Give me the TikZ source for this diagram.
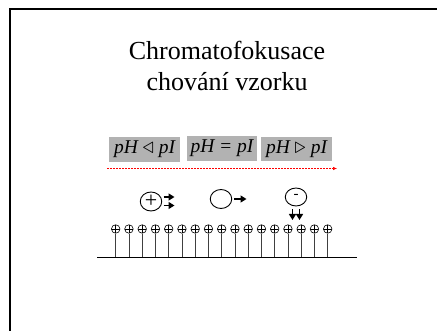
\documentclass[tikz,border=0pt]{standalone}
\usepackage{fontspec}
\setmainfont{Liberation Serif}
\usetikzlibrary{arrows.meta,shapes.geometric}
\definecolor{boxgray}{RGB}{178,178,178}
\begin{document}
\begin{tikzpicture}[x=1pt,y=-1pt,
  titletext/.style={anchor=base, inner sep=0pt, font=\fontsize{26}{30}\selectfont},
  phbox/.style={fill=boxgray, minimum width=71pt, minimum height=25pt, inner sep=0pt,
    text height=13pt, text depth=4pt, font=\fontsize{19.5}{22}\selectfont\itshape},
  ion/.style={draw, ellipse, line width=0.9pt, minimum width=21.5pt, minimum height=19pt, inner sep=0pt},
  ligand/.style={draw, circle, line width=0.6pt, minimum size=8.5pt, inner sep=0pt,
    path picture={\draw[line width=0.6pt] (path picture bounding box.north) -- (path picture bounding box.south)
      (path picture bounding box.west) -- (path picture bounding box.east);}},
  stem/.style={draw=black!75, line width=0.8pt},
  move/.style={-{Triangle[length=6pt,width=7pt]}, line width=1.4pt}
]
\useasboundingbox (0,0) rectangle (437,331);
% frame
\draw[line width=2pt] (10,331) -- (10,9) -- (437,9);
% title
\node[titletext] (t1) at (227,60) {Chromatofokusace};
\node[titletext] (t2) at (227,90.5) {chování vzorku};
% pH boxes
\node[phbox] (b1) at (144.5,149.5) {pH \scalebox{1.1}{$\triangleleft$} pI};
\node[phbox, minimum width=70pt] (b2) at (222,148.5) {pH = pI};
\node[phbox, minimum height=24pt] (b3) at (296.5,149) {pH \scalebox{1.1}{$\triangleright$} pI};
% red dashed arrow
\coordinate (r1) at (107,168.5);
\coordinate (r2) at (337,168.5);
\draw[red, line width=0.6pt, dash pattern=on 2pt off 1pt, -{Latex[length=4pt,width=3.5pt]}] (r1) -- (r2);
% ions
\node[ion, font=\fontsize{22}{22}\selectfont] (ip) at (151,201.5) {\raisebox{-1pt}{+}};
\node[ion] (i0) at (221,199) {};
\node[ion, minimum height=18pt, font=\fontsize{15}{15}\selectfont] (im) at (296,197) {\raisebox{1.5pt}{-}};
% arrows
\coordinate (pa1) at (163.5,197); \coordinate (pa2) at (174.5,197);
\coordinate (pb1) at (163.5,205.5); \coordinate (pb2) at (174.5,205.5);
\draw[move] (pa1) -- (pa2);
\draw[move] (pb1) -- (pb2);
\coordinate (na1) at (234,199); \coordinate (na2) at (246.5,199);
\draw[move] (na1) -- (na2);
\coordinate (ma1) at (292.5,209.5); \coordinate (ma2) at (292.5,220);
\coordinate (mb1) at (299.5,209.5); \coordinate (mb2) at (299.5,220);
\draw[move] (ma1) -- (ma2);
\draw[move] (mb1) -- (mb2);
% base
\coordinate (bL) at (97,257.5);
\coordinate (bR) at (357,257.5);
\foreach \i in {0,...,16} {
  \node[ligand] (p\i) at ({115.7+13.25*\i},229) {};
  \draw[stem] (p\i.south) -- (p\i.south |- bL);
}
\draw[line width=1.8pt] (bL) -- (bR);
\end{tikzpicture}
\end{document}
